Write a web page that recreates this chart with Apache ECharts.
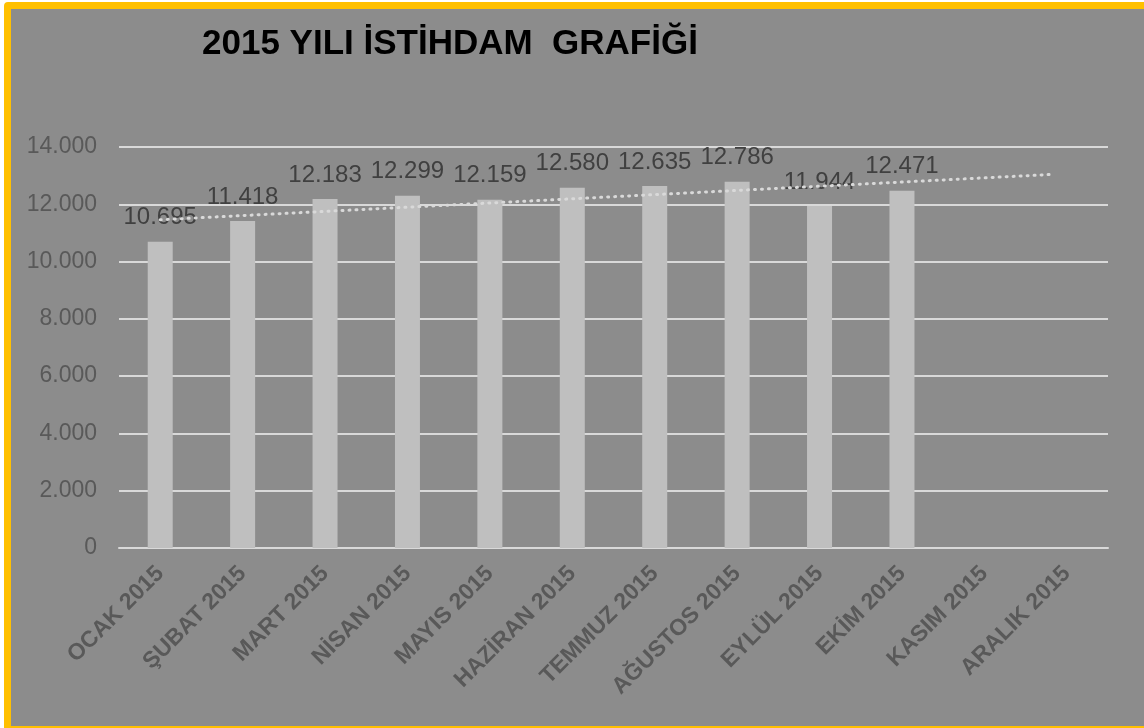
<!DOCTYPE html>
<html>
<head>
<meta charset="utf-8">
<script src="https://cdn.jsdelivr.net/npm/echarts@6/dist/echarts.min.js"></script>
<style>
  html, body { margin: 0; padding: 0; background: #ffffff; overflow: hidden; }
  #frame {
    position: absolute; left: 4px; top: 2px;
    width: 1133px; height: 717px;
    border: 7px solid #FFC000; border-radius: 4px;
    background: #8c8c8c;
  }
  #chart { width: 1133px; height: 717px; }
</style>
</head>
<body>
<div id="frame"><div id="chart"></div></div>
<script>
// months of 2015
const months = ['OCAK 2015', 'ŞUBAT 2015', 'MART 2015', 'NİSAN 2015', 'MAYIS 2015', 'HAZİRAN 2015',
  'TEMMUZ 2015', 'AĞUSTOS 2015', 'EYLÜL 2015', 'EKİM 2015', 'KASIM 2015', 'ARALIK 2015'];
// employment per month (no data yet for Kasım / Aralık)
const employed = [10695, 11418, 12183, 12299, 12159, 12580, 12635, 12786, 11944, 12471, null, null];
// dotted trend line: [category position, value]
const trend = [[0, 11460], [10.8, 13040]];

const fmt = v => v.toLocaleString('tr-TR');

const chart = echarts.init(document.getElementById('chart'));

const option = {
  backgroundColor: '#8c8c8c',
  title: {
    text: '2015 YILI İSTİHDAM  GRAFİĞİ',
    left: 186,
    top: 13,
    textStyle: { fontFamily: 'Liberation Sans', fontWeight: 'bold', fontSize: 35, color: '#000000' }
  },
  grid: { left: 108, right: 36, top: 138, bottom: 178 },
  xAxis: [
    {
      type: 'category',
      data: months,
      axisLine: { lineStyle: { color: '#d9d9d9', width: 2 } },
      axisTick: { show: false },
      axisLabel: {
        rotate: 45,
        margin: 22,
        interval: 0,
        color: '#595959',
        fontFamily: 'Liberation Sans',
        fontWeight: 'bold',
        fontSize: 23
      }
    },
    {
      type: 'value',
      min: -0.5,
      max: 11.5,
      show: false
    }
  ],
  yAxis: {
    type: 'value',
    min: 0,
    max: 14000,
    interval: 2000,
    axisLine: { show: false },
    axisTick: { show: false },
    splitLine: { lineStyle: { color: '#d9d9d9', width: 2 } },
    axisLabel: {
      margin: 22,
      color: '#595959',
      fontFamily: 'Liberation Sans',
      fontSize: 23,
      formatter: fmt
    }
  },
  series: [
    {
      name: 'İstihdam',
      type: 'bar',
      data: employed,
      barWidth: 25,
      itemStyle: { color: '#bfbfbf' },
      label: {
        show: true,
        position: 'top',
        distance: 12,
        color: '#404040',
        fontFamily: 'Liberation Sans',
        fontSize: 24,
        formatter: p => fmt(p.value)
      },
      z: 2
    },
    {
      name: 'Trend',
      type: 'line',
      xAxisIndex: 1,
      data: trend,
      symbol: 'none',
      lineStyle: { color: '#d9d9d9', width: 3, type: [1, 6], cap: 'round' },
      z: 3
    }
  ]
};

chart.setOption(option);
</script>
</body>
</html>
